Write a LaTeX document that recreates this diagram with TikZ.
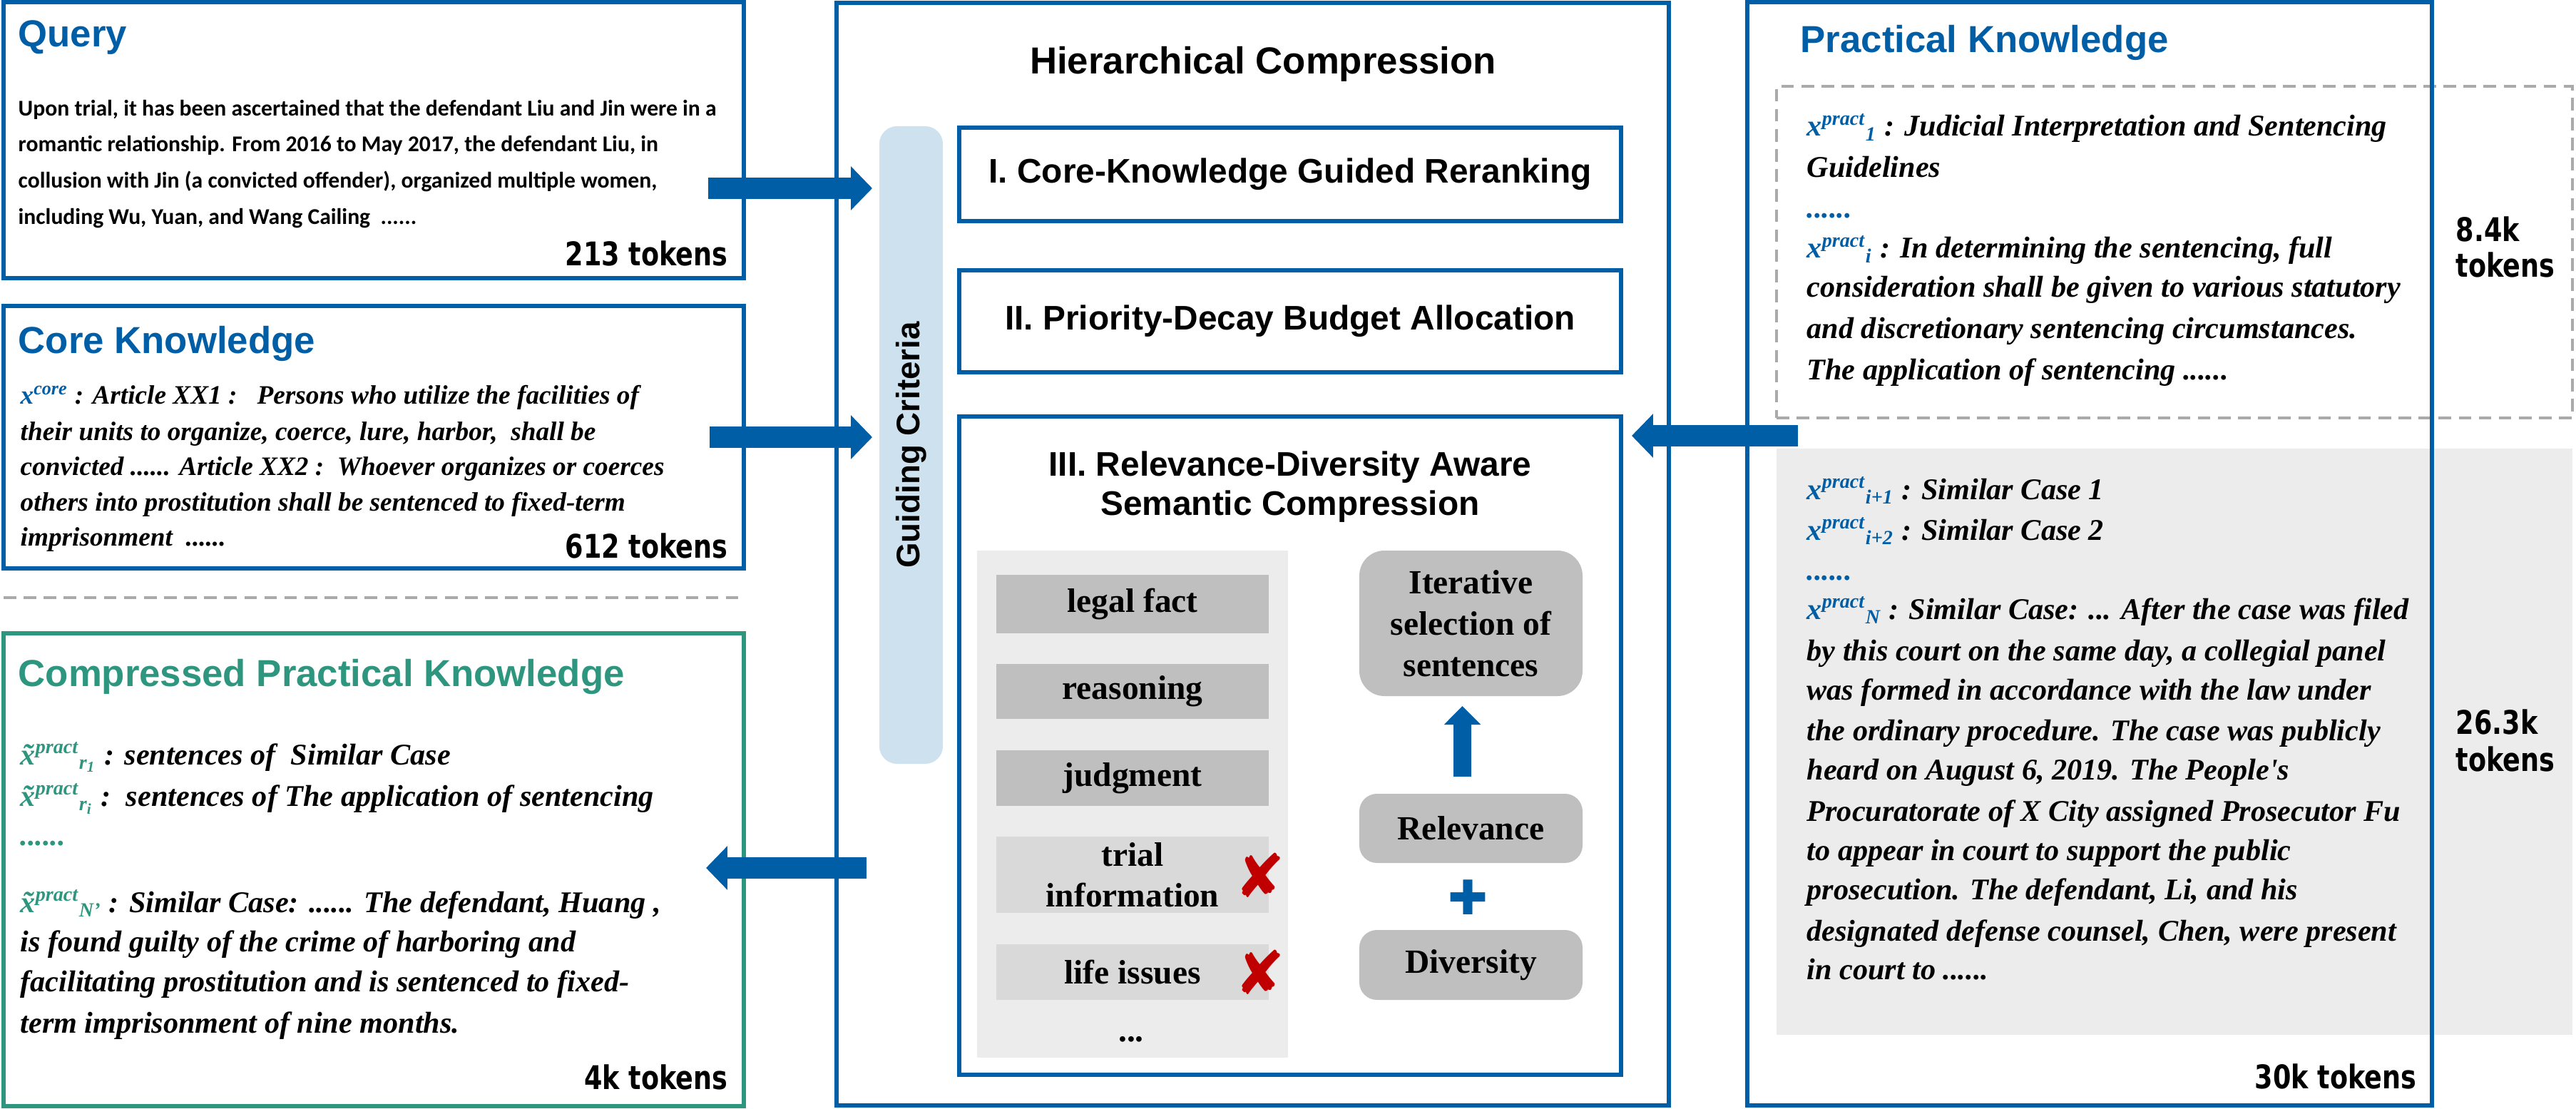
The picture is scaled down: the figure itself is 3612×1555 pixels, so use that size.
\documentclass[tikz,border=0pt]{standalone}
\usepackage{fontspec}
\setmainfont{Liberation Serif}
\newfontfamily\arialf{Liberation Sans}
\newfontfamily\calibf{Carlito}
\newfontfamily\tokf[FakeStretch=0.8]{DejaVu Sans}
\newfontfamily\djv{DejaVu Sans}
\usetikzlibrary{arrows.meta,calc}
\definecolor{mblue}{RGB}{0,94,166}
\definecolor{mteal}{RGB}{46,150,126}
\definecolor{gblue}{RGB}{205,225,239}
\definecolor{dgray}{RGB}{191,191,191}
\definecolor{lgray}{RGB}{217,217,217}
\definecolor{pgray}{RGB}{236,236,236}
\definecolor{dashg}{RGB}{170,170,170}
\definecolor{xred}{RGB}{192,0,0}
\newcommand{\rbox}[7]{\node[#1, inner sep=0pt, outer sep=0pt, minimum width={(#4-#2)*0.01cm}, minimum height={(#5-#3)*0.01cm}] (#6) at ({(#2+#4)/2},{(#3+#5)/2}) {#7};}
\newcommand{\xp}[2]{{\color{mblue}x\textsuperscript{#1}\textsubscript{#2}}}
\newcommand{\xt}[2]{{\color{mteal}\~{x}\textsuperscript{#1}\textsubscript{#2}}}
\newcommand{\sq}{{\addfontfeatures{Ligatures=TeXOff}'}}
\tikzset{
  bbox/.style={draw=mblue, line width=1.7pt},
  tbox/.style={draw=mteal, line width=1.7pt},
  stepbx/.style={draw=mblue, line width=1.7pt, font=\arialf\bfseries\fontsize{13.6}{15.6}\selectfont, align=center},
  ttl/.style={anchor=base west, inner sep=0pt, font=\arialf\bfseries\fontsize{15}{18}\selectfont, text=mblue},
  qtxt/.style={anchor=base west, inner sep=0pt, font=\calibf\bfseries\fontsize{9}{11}\selectfont},
  itx/.style={anchor=base west, inner sep=0pt, font=\bfseries\itshape\fontsize{12}{14}\selectfont},
  itxs/.style={anchor=base west, inner sep=0pt, font=\bfseries\itshape\fontsize{10.6}{13}\selectfont},
  tok/.style={inner sep=0pt, font=\tokf\bfseries\fontsize{13}{15}\selectfont},
  itembx/.style={fill=dgray, font=\bfseries\fontsize{13.5}{16.2}\selectfont, align=center},
  itembxl/.style={itembx, fill=lgray},
  rbx/.style={fill=dgray, rounded corners=7pt, font=\bfseries\fontsize{13.5}{16.5}\selectfont, align=center},
  bigarrow/.style={draw=mblue, line width=8.5pt, -{Triangle[length=8.5pt,width=17pt]}},
  uparrow/.style={draw=mblue, line width=7.1pt, -{Triangle[length=7.4pt,width=14.2pt]}},
  redx/.style={text=xred, font=\djv\fontsize{24}{24}\selectfont, inner sep=0pt},
}
\begin{document}
\begin{tikzpicture}[x=0.01cm, y=-0.01cm]
\useasboundingbox (0,0) rectangle (3612,1555);
% ---------------- left column ----------------
\rbox{bbox}{5}{3}{1043}{390}{query}{}
\node[ttl] (qtitle) at (25,66) {Query};
\node[qtxt] (q1) at (25,163) {Upon trial, it has been ascertained that the defendant Liu and Jin were in a};
\node[qtxt] (q2) at (25,213) {romantic relationship. From 2016 to May 2017, the defendant Liu, in};
\node[qtxt] (q3) at (25,264) {collusion with Jin (a convicted offender), organized multiple women,};
\node[qtxt] (q4) at (25,315) {including Wu, Yuan, and Wang Cailing\ \ ......};
\node[tok, anchor=base east] (qtok) at (1021,373) {213 tokens};

\rbox{bbox}{5}{429}{1043}{797}{core}{}
\node[ttl] (ctitle) at (25,495) {Core Knowledge};
\node[itxs] (c1) at (28,567) {{\color{mblue}x\textsuperscript{core}} : Article XX1 :\ \ \ Persons who utilize the facilities of};
\node[itxs] (c2) at (28,617) {their units to organize, coerce, lure, harbor,\ \ shall be};
\node[itxs] (c3) at (28,666) {convicted ...... Article XX2 :\ \ Whoever organizes or coerces};
\node[itxs] (c4) at (28,716) {others into prostitution shall be sentenced to fixed-term};
\node[itxs] (c5) at (28,765) {imprisonment\ \ ......};
\node[tok, anchor=base east] (ctok) at (1021,782) {612 tokens};

\draw[dashg, line width=1.1pt, dash pattern=on 5pt off 3pt] (5,838) -- (1043,838);

\rbox{tbox}{5}{888}{1043}{1551}{comp}{}
\node[ttl, text=mteal] (cptitle) at (25,962) {Compressed Practical Knowledge};
\node[itx] (p1) at (28,1072) {\xt{pract}{r\textsubscript{1}} : sentences of\ \ Similar Case};
\node[itx] (p2) at (28,1130) {\xt{pract}{r\textsubscript{i}} :\ \ sentences of The application of sentencing};
\node[itx, text=mteal] (p3) at (28,1185) {......};
\node[itx] (p4) at (28,1279) {\xt{pract}{N’} : Similar Case: ...... The defendant, Huang ,};
\node[itx] (p5) at (28,1334) {is found guilty of the crime of harboring and};
\node[itx] (p6) at (28,1390) {facilitating prostitution and is sentenced to fixed-};
\node[itx] (p7) at (28,1448) {term imprisonment of nine months.};
\node[tok, anchor=base east] (cptok) at (1021,1527) {4k tokens};

% ---------------- middle column ----------------
\rbox{bbox}{1173}{4}{2340}{1550}{mid}{}
\node[anchor=base, inner sep=0pt, font=\arialf\bfseries\fontsize{15}{18}\selectfont] (hct) at (1771,104) {Hierarchical Compression};
\rbox{fill=gblue, rounded corners=7pt}{1233}{177}{1322}{1071}{guide}{}
\node[rotate=90, inner sep=0pt, font=\arialf\bfseries\fontsize{13}{15}\selectfont] (gtxt) at (guide.center) {Guiding Criteria};
\rbox{stepbx}{1345}{179}{2273}{310}{b1}{I. Core-Knowledge Guided Reranking}
\rbox{stepbx}{1345}{379}{2273}{522}{b2}{II. Priority-Decay Budget Allocation}
\rbox{bbox}{1345}{584}{2273}{1507}{b3}{}
\node[align=center, inner sep=0pt, font=\arialf\bfseries\fontsize{13.6}{15.6}\selectfont] (b3t) at (1809,683) {III. Relevance-Diversity Aware\\Semantic Compression};
\rbox{fill=pgray}{1370}{772}{1806}{1483}{panel}{}
\rbox{itembx}{1397}{806}{1779}{888}{i1}{legal fact}
\rbox{itembx}{1397}{931}{1779}{1008}{i2}{reasoning}
\rbox{itembx}{1397}{1052}{1779}{1130}{i3}{judgment}
\rbox{itembxl}{1397}{1173}{1779}{1280}{i4}{trial\\information}
\rbox{itembxl}{1397}{1324}{1779}{1402}{i5}{life issues}
\node[anchor=base, inner sep=0pt, font=\bfseries\fontsize{13.5}{16}\selectfont] (idots) at (1586,1460) {...};
\node[redx] (x1) at (1767,1227) {✘};
\node[redx] (x2) at (1767,1363) {✘};
\rbox{rbx, rounded corners=10pt}{1906}{772}{2219}{976}{iter}{Iterative\\selection of\\sentences}
\rbox{rbx}{1906}{1113}{2219}{1210}{rel}{Relevance}
\rbox{rbx}{1906}{1304}{2219}{1402}{div}{Diversity}
\node[text=mblue, inner sep=0pt, font=\djv\fontsize{19}{19}\selectfont] (plus) at (2058,1258) {✚};
\draw[uparrow] ($(rel.north)+(-12,-24)$) -- ($(iter.south)+(-12,14)$);

% ---------------- right column ----------------
\rbox{fill=pgray}{2491}{629}{3607}{1451}{simpanel}{}
\rbox{draw=dashg, line width=1.1pt, dash pattern=on 5pt off 3pt}{2491}{121}{3607}{586}{guidebox}{}
\rbox{bbox}{2450}{3}{3410}{1550}{pract}{}
\node[ttl] (ptitle) at (2524,74) {Practical Knowledge};
\node[itx] (r1) at (2533,191) {\xp{pract}{1} : Judicial Interpretation and Sentencing};
\node[itx] (r2) at (2533,249) {Guidelines};
\node[itx, text=mblue] (r3) at (2533,306) {......};
\node[itx] (r4) at (2533,362) {\xp{pract}{i} : In determining the sentencing, full};
\node[itx] (r5) at (2533,417) {consideration shall be given to various statutory};
\node[itx] (r6) at (2533,475) {and discretionary sentencing circumstances.};
\node[itx] (r7) at (2533,532) {The application of sentencing ......};
\node[tok, anchor=base west] (k1) at (3443,339) {8.4k};
\node[tok, anchor=base west] (k2) at (3443,389) {tokens};
\node[itx] (s1) at (2533,700) {\xp{pract}{i+1} : Similar Case 1};
\node[itx] (s2) at (2533,757) {\xp{pract}{i+2} : Similar Case 2};
\node[itx, text=mblue] (s3) at (2533,813) {......};
\node[itx] (s4) at (2533,868) {\xp{pract}{N} : Similar Case: ... After the case was filed};
\node[itx] (s5) at (2533,926) {by this court on the same day, a collegial panel};
\node[itx] (s6) at (2533,981) {was formed in accordance with the law under};
\node[itx] (s7) at (2533,1038) {the ordinary procedure. The case was publicly};
\node[itx] (s8) at (2533,1093) {heard on August 6, 2019. The People\sq s};
\node[itx] (s9) at (2533,1151) {Procuratorate of X City assigned Prosecutor Fu};
\node[itx] (s10) at (2533,1206) {to appear in court to support the public};
\node[itx] (s11) at (2533,1261) {prosecution. The defendant, Li, and his};
\node[itx] (s12) at (2533,1319) {designated defense counsel, Chen, were present};
\node[itx] (s13) at (2533,1373) {in court to ......};
\node[tok, anchor=base west] (k3) at (3443,1029) {26.3k};
\node[tok, anchor=base west] (k4) at (3443,1081) {tokens};
\node[tok, anchor=base east] (k5) at (3389,1526) {30k tokens};

% ---------------- block arrows ----------------
\coordinate (qa) at (993,264);
\draw[bigarrow] (qa) -- ($(guide.west|-qa)+(-10,0)$);
\coordinate (ca) at (995,613);
\draw[bigarrow] (ca) -- ($(guide.west|-ca)+(-10,0)$);
\coordinate (ra) at (2521,611);
\draw[bigarrow] (ra) -- ($(b3.east|-ra)+(15,0)$);
\coordinate (la) at (1215,1217);
\draw[bigarrow] (la) -- ($(comp.east|-la)+(-53,0)$);
\end{tikzpicture}
\end{document}
